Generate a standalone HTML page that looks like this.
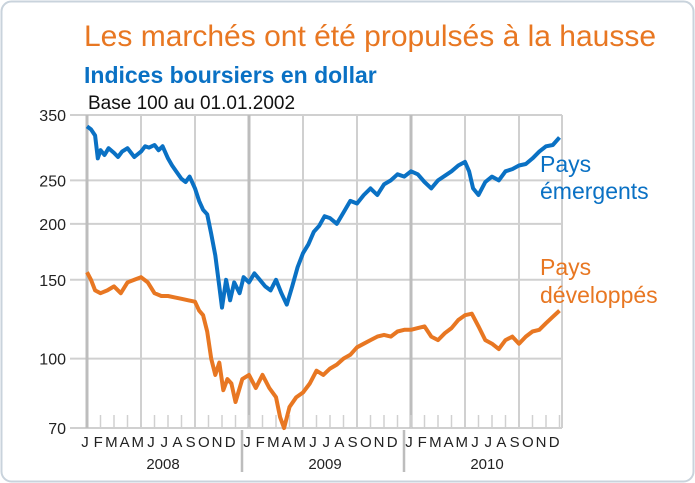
<!DOCTYPE html>
<html><head><meta charset="utf-8"><style>
body{margin:0;background:#fff;}
svg{display:block;font-family:"Liberation Sans",sans-serif;}
</style></head><body>
<svg id="c" width="695" height="483" viewBox="0 0 695 483">
<rect x="1.5" y="1.5" width="692" height="480" rx="10" fill="#fff" stroke="#c9d3dc" stroke-width="2"/>
<text x="84" y="46" font-size="30" fill="#E87722">Les marchés ont été propulsés à la hausse</text>
<text x="84" y="83" font-size="23" font-weight="bold" fill="#0a71c4">Indices boursiers en dollar</text>
<text x="88" y="109" font-size="19" fill="#111">Base 100 au 01.01.2002</text>
<g id="grid"></g><g id="series"></g><g id="axes"></g>
<text x="540" y="172" font-size="23" fill="#0a71c4">Pays</text>
<text x="540" y="199" font-size="23" fill="#0a71c4">émergents</text>
<text x="540" y="275" font-size="23" fill="#E87722">Pays</text>
<text x="540" y="303" font-size="23" fill="#E87722">développés</text>
</svg>
<script>
const yTicks=[70,100,150,200,250,350];
const monthLabels=["J","F","M","A","M","J","J","A","S","O","N","D"];
const years=["2008","2009","2010"];
const emT=[0,0.3,0.6,0.8,1,1.3,1.6,2,2.3,2.6,3,3.5,4,4.3,4.6,5,5.3,5.6,6,6.3,6.6,7,7.3,7.6,8,8.3,8.6,8.9,9.2,9.5,9.8,10,10.3,10.6,10.9,11.3,11.6,12,12.4,12.8,13.2,13.6,14,14.4,14.8,15.2,15.6,16,16.4,16.8,17.2,17.6,18,18.5,19,19.5,20,20.5,21,21.5,22,22.5,23,23.5,24,24.5,25,25.5,26,26.5,27,27.5,28,28.3,28.6,29,29.5,30,30.5,31,31.5,32,32.5,33,33.5,34,34.5,35];
const emV=[330,325,315,280,292,285,295,288,282,290,295,282,290,298,296,300,292,298,280,270,262,252,248,255,240,225,215,210,190,170,145,130,150,135,148,140,152,148,155,150,145,142,150,140,132,145,160,172,180,192,198,208,206,200,212,225,222,232,240,232,245,250,258,255,262,258,248,240,250,256,262,270,275,262,240,232,248,255,250,262,265,270,272,280,290,298,300,312,325,332];
const dvT=[0,0.3,0.6,1,1.5,2,2.5,3,3.5,4,4.5,5,5.5,6,6.5,7,7.5,8,8.3,8.6,8.9,9.2,9.5,9.8,10.1,10.4,10.7,11,11.5,12,12.5,13,13.5,14,14.3,14.6,15,15.5,16,16.5,17,17.5,18,18.5,19,19.5,20,20.5,21,21.5,22,22.5,23,23.5,24,24.5,25,25.5,26,26.5,27,27.5,28,28.5,29,29.5,30,30.5,31,31.5,32,32.5,33,33.5,34,34.5,35];
const dvV=[156,150,142,140,142,145,140,148,150,152,148,140,138,138,137,136,135,134,128,125,115,100,92,98,85,90,88,80,90,92,86,92,86,82,74,70,78,82,84,88,94,92,95,97,100,102,106,108,110,112,113,112,115,116,116,117,118,112,110,114,117,122,125,126,118,110,108,105,110,112,108,112,115,116,120,124,128];
const NS="http://www.w3.org/2000/svg";
const X0=87,PX=13.5,XR=562,YT=115,Y70=428;
const K=(Y70-YT)/Math.log(350/70);
function x(m){return X0+PX*m;}
function y(v){return YT+Math.log(350/v)*K;}
function mk(tag,attrs,parent){const e=document.createElementNS(NS,tag);for(const k in attrs)e.setAttribute(k,attrs[k]);parent.appendChild(e);return e;}
const grid=document.getElementById('grid'),axes=document.getElementById('axes'),ser=document.getElementById('series');
yTicks.forEach(v=>{
 const l=mk('line',{x1:70,x2:XR,y1:y(v),y2:y(v),stroke:'#d0d0d0','stroke-width':2},grid);
 
 
 const t=mk('text',{x:66,y:y(v)+6,'text-anchor':'end','font-size':16,fill:'#222'},axes);
 t.textContent=v;
 
 
});
for(let m=0;m<=36;m+=4){
 if(x(m)>XR+1)break;
 const l=mk('line',{x1:x(m),x2:x(m),y1:YT,y2:Y70,stroke:(m%12==0)?'#bdbdbd':'#d0d0d0','stroke-width':(m%12==0)?3:2},grid);
 
 
}
mk('line',{x1:XR,x2:XR,y1:YT,y2:Y70,stroke:'#d0d0d0','stroke-width':2},grid);
for(let m=1;m<36;m++){
 const t=mk('line',{x1:x(m),x2:x(m),y1:Y70-13,y2:Y70,stroke:'#d0d0d0','stroke-width':1.5},grid);
 
 
}
for(let yi=0;yi<3;yi++){
 for(let i=0;i<12;i++){
  const t=mk('text',{x:X0-2+yi*162+i*13.2,y:447,'font-size':15,fill:'#222','text-anchor':'middle'},axes);
  t.textContent=monthLabels[i];
  
  
 }
 const yt=mk('text',{x:X0+yi*162+76,y:469,'font-size':15,fill:'#222','text-anchor':'middle'},axes);
 yt.textContent=years[yi];
 
 
 if(yi>0){
  const d=mk('line',{x1:X0-7+yi*162,x2:X0-7+yi*162,y1:430,y2:472,stroke:'#bdbdbd','stroke-width':2.5},axes);
  
  
 }
}
function line(T,V,col,name){
 const p=mk('polyline',{points:T.map((t,i)=>x(t).toFixed(1)+','+y(V[i]).toFixed(1)).join(' '),fill:'none',stroke:col,'stroke-width':4,'stroke-linejoin':'round'},ser);
 
 
}
line(emT,emV,'#0a71c4','series-emerging');
line(dvT,dvV,'#E87722','series-developed');
</script>
</body></html>
